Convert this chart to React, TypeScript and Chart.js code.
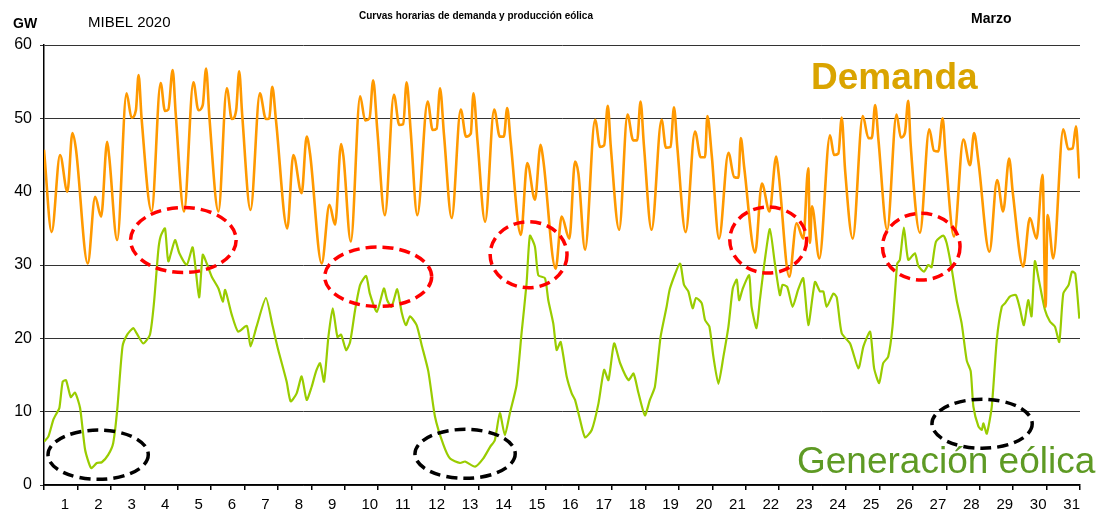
import React, { useEffect, useRef } from 'react';
import { Chart, registerables } from 'chart.js';

Chart.register(...registerables);

const FONT = "'Liberation Sans', Arial, sans-serif";

const dayLabels = ['1','2','3','4','5','6','7','8','9','10','11','12','13','14','15','16','17','18','19','20','21','22','23','24','25','26','27','28','29','30','31'];

// [day position (0 = start of 1 March), GW]
const demandPoints: [number, number][] = [
  [0, 45.7],[0.23, 34.5],[0.48, 45.0],[0.70, 40.0],[0.85, 48.0],[0.95, 46.0],
  [1.31, 30.2],[1.53, 39.3],[1.71, 36.6],[1.89, 46.8],[1.95, 44.8],
  [2.19, 33.4],[2.47, 53.4],[2.62, 50.1],[2.75, 51.1],[2.83, 55.9],[2.92, 50.0],
  [3.22, 37.3],[3.49, 54.8],[3.62, 51.0],[3.72, 51.2],[3.85, 56.6],[3.94, 50.7],
  [4.19, 37.3],[4.47, 54.9],[4.62, 51.1],[4.75, 51.8],[4.85, 56.8],[4.95, 50.1],
  [5.22, 37.3],[5.47, 54.1],[5.62, 49.9],[5.75, 51.1],[5.84, 56.4],[5.93, 50.5],
  [6.18, 37.5],[6.46, 53.4],[6.64, 49.9],[6.74, 50.0],[6.83, 54.3],[6.94, 49.8],
  [7.28, 35.0],[7.46, 45.0],[7.71, 39.8],[7.86, 47.5],[7.96, 45.2],
  [8.31, 30.2],[8.54, 38.2],[8.71, 35.5],[8.89, 46.5],[8.96, 44.8],
  [9.18, 33.2],[9.46, 53.0],[9.61, 49.7],[9.74, 50.0],[9.85, 55.2],[9.97, 48.6],
  [10.20, 36.8],[10.47, 53.2],[10.63, 49.1],[10.75, 49.2],[10.85, 54.9],[10.97, 48.4],
  [11.17, 36.8],[11.48, 52.3],[11.63, 48.4],[11.75, 48.6],[11.85, 54.1],[11.97, 47.7],
  [12.20, 36.4],[12.47, 51.2],[12.63, 47.5],[12.77, 47.9],[12.85, 53.4],[12.97, 47.0],
  [13.20, 35.9],[13.47, 51.2],[13.64, 47.5],[13.76, 47.5],[13.86, 51.4],[13.96, 47.0],
  [14.27, 34.1],[14.46, 43.9],[14.69, 38.9],[14.86, 46.4],[14.94, 44.3],
  [15.31, 29.5],[15.49, 36.6],[15.72, 33.6],[15.89, 44.1],[15.99, 42.5],
  [16.19, 32.1],[16.49, 49.8],[16.64, 46.1],[16.76, 46.3],[16.87, 51.7],[16.96, 46.1],
  [17.21, 34.8],[17.46, 50.5],[17.63, 47.0],[17.75, 47.0],[17.85, 52.3],[17.95, 46.4],
  [18.18, 34.8],[18.48, 49.8],[18.61, 46.0],[18.75, 46.1],[18.85, 51.5],[18.95, 46.1],
  [19.20, 34.5],[19.48, 48.2],[19.65, 44.7],[19.78, 44.7],[19.85, 50.3],[19.98, 45.0],
  [20.20, 33.6],[20.48, 45.3],[20.65, 42.0],[20.78, 41.9],[20.85, 47.3],[20.95, 43.4],
  [21.28, 31.7],[21.48, 41.1],[21.71, 37.3],[21.91, 44.8],[21.98, 42.6],
  [22.30, 28.4],[22.52, 35.7],[22.72, 33.6],[22.87, 43.2],[22.92, 33.0],[22.98, 38.0],
  [23.20, 30.9],[23.52, 47.7],[23.64, 45.0],[23.77, 45.2],[23.87, 50.1],[23.97, 43.0],
  [24.20, 33.6],[24.50, 50.3],[24.67, 47.3],[24.77, 47.3],[24.87, 51.8],[24.97, 47.0],
  [25.23, 34.8],[25.51, 50.5],[25.64, 47.4],[25.76, 48.0],[25.86, 52.4],[25.93, 46.6],
  [26.21, 34.4],[26.49, 48.5],[26.63, 45.6],[26.76, 45.5],[26.89, 50.0],[26.98, 44.8],
  [27.23, 33.9],[27.51, 47.1],[27.71, 43.6],[27.83, 48.0],[27.96, 44.1],
  [28.29, 31.8],[28.52, 41.6],[28.70, 37.3],[28.88, 44.5],[28.99, 39.8],
  [29.30, 29.8],[29.50, 36.4],[29.70, 33.6],[29.88, 42.3],[29.97, 24.3],[30.03, 36.8],
  [30.20, 30.9],[30.50, 48.5],[30.65, 45.8],[30.78, 45.9],[30.88, 48.9],[30.98, 41.8],
];

const windPoints: [number, number][] = [
  [0, 5.9],[0.13, 6.6],[0.28, 8.9],[0.38, 9.8],[0.46, 10.5],[0.56, 14.1],[0.66, 14.3],[0.80, 12.0],[0.93, 12.6],
  [1.08, 10.5],[1.23, 4.8],[1.41, 2.3],[1.58, 3.0],[1.73, 3.1],[1.92, 4.1],
  [2.07, 5.7],[2.19, 10.2],[2.35, 18.9],[2.49, 20.5],[2.67, 21.4],[2.77, 20.7],[2.97, 19.3],
  [3.17, 20.5],[3.29, 24.8],[3.42, 32.0],[3.49, 33.9],[3.62, 35.0],[3.72, 30.5],[3.92, 33.4],
  [4.05, 31.6],[4.27, 30.0],[4.45, 32.4],[4.64, 25.6],[4.75, 31.4],[4.87, 30.2],
  [5.02, 28.4],[5.22, 26.8],[5.35, 25.0],[5.42, 26.6],[5.62, 23.2],[5.81, 20.9],
  [6.07, 21.7],[6.18, 18.9],[6.36, 21.6],[6.64, 25.5],[6.84, 21.7],
  [7.01, 18.4],[7.26, 14.1],[7.38, 11.4],[7.56, 12.5],[7.71, 14.8],[7.86, 11.6],
  [8.01, 13.4],[8.14, 15.5],[8.26, 16.6],[8.38, 14.1],[8.51, 20.2],[8.64, 24.1],[8.78, 20.2],[8.89, 20.5],
  [9.04, 18.4],[9.16, 19.5],[9.31, 23.9],[9.46, 27.3],[9.64, 28.5],[9.75, 26.1],[9.96, 23.6],
  [10.17, 26.8],[10.27, 25.2],[10.40, 24.3],[10.57, 26.7],[10.70, 23.6],[10.83, 21.8],[10.95, 23.0],
  [11.15, 21.8],[11.30, 19.1],[11.50, 15.5],[11.70, 9.3],[11.95, 5.5],
  [12.15, 3.6],[12.45, 3.0],[12.60, 3.2],[12.90, 2.5],
  [13.14, 3.6],[13.35, 5.2],[13.49, 6.1],[13.64, 9.8],[13.79, 6.8],[13.94, 9.8],
  [14.14, 13.6],[14.29, 20.7],[14.44, 27.5],[14.54, 34.0],[14.69, 32.5],[14.79, 28.6],[14.99, 28.2],
  [15.09, 25.2],[15.24, 22.0],[15.34, 18.4],[15.46, 19.5],[15.64, 14.8],[15.79, 12.5],[15.89, 11.6],
  [16.04, 8.9],[16.19, 6.5],[16.39, 7.5],[16.59, 11.1],[16.76, 15.7],[16.89, 14.3],
  [17.06, 19.3],[17.24, 16.6],[17.49, 14.3],[17.64, 15.2],[17.79, 12.5],[17.98, 9.5],
  [18.13, 11.6],[18.28, 13.4],[18.45, 20.2],[18.63, 24.3],[18.73, 26.8],
  [19.03, 30.2],[19.15, 27.3],[19.28, 26.4],[19.41, 24.1],[19.51, 25.5],[19.68, 24.8],[19.78, 22.5],[19.91, 21.6],
  [20.03, 17.5],[20.18, 13.8],[20.33, 17.5],[20.48, 21.6],[20.61, 26.8],[20.73, 28.0],[20.80, 25.2],[20.91, 26.8],
  [21.10, 28.6],[21.17, 24.4],[21.32, 21.4],[21.42, 25.2],[21.57, 30.7],[21.72, 34.9],[21.87, 30.2],
  [22.02, 25.9],[22.10, 27.3],[22.24, 27.0],[22.40, 24.3],[22.57, 26.7],[22.72, 28.2],[22.87, 21.8],
  [23.07, 27.7],[23.22, 26.4],[23.32, 26.4],[23.42, 24.3],[23.62, 26.1],[23.72, 25.6],[23.87, 20.7],
  [24.12, 19.3],[24.37, 15.9],[24.52, 18.9],[24.72, 20.9],[24.84, 15.9],[24.99, 13.9],
  [25.11, 16.6],[25.26, 17.5],[25.39, 21.6],[25.53, 30.2],[25.61, 30.7],[25.73, 35.1],[25.86, 30.7],
  [26.06, 31.6],[26.16, 29.9],[26.33, 29.1],[26.46, 30.0],[26.56, 29.7],[26.69, 33.2],[26.91, 34.0],
  [27.01, 33.0],[27.16, 29.5],[27.31, 25.2],[27.46, 22.0],[27.61, 17.0],[27.73, 15.5],[27.81, 10.7],[27.96, 8.0],
  [28.06, 7.5],[28.11, 8.4],[28.21, 7.0],[28.36, 10.7],[28.51, 19.8],[28.66, 24.3],[28.76, 24.8],[28.90, 25.7],
  [29.08, 25.9],[29.20, 24.1],[29.32, 21.8],[29.45, 25.2],[29.55, 23.0],[29.65, 30.5],[29.78, 27.7],[29.95, 23.9],
  [30.10, 22.3],[30.25, 21.6],[30.38, 19.5],[30.50, 26.1],[30.66, 27.3],[30.76, 29.1],[30.86, 28.8],[30.98, 22.7],
];

// highlight ellipses: [centre day, centre GW, radius days, radius GW]
const redEllipses: [number, number, number, number][] = [
  [4.17, 33.4, 1.58, 4.43],
  [10.0, 28.4, 1.6, 4.05],
  [14.5, 31.4, 1.15, 4.5],
  [21.67, 33.4, 1.15, 4.5],
  [26.25, 32.5, 1.16, 4.55],
];
const blackEllipses: [number, number, number, number][] = [
  [1.62, 4.13, 1.5, 3.36],
  [12.6, 4.25, 1.5, 3.34],
  [28.07, 8.35, 1.5, 3.34],
];

const titleText = 'Curvas horarias de demanda y producción eólica';
const unitText = 'GW';
const marketText = 'MIBEL 2020';
const monthText = 'Marzo';
const demandLabel = 'Demanda';
const windLabel = 'Generación eólica';

const ellipsePlugin = {
  id: 'ellipses',
  afterDatasetsDraw(chart: any) {
    const xs = chart.scales.xd;
    const ys = chart.scales.y;
    const ctx = chart.ctx;
    ctx.save();
    ctx.lineWidth = 3.5;
    ctx.setLineDash([11, 6]);
    const draw = (list: [number, number, number, number][], color: string) => {
      for (const [cx, cy, rx, ry] of list) {
        const px = xs.getPixelForValue(cx);
        const py = ys.getPixelForValue(cy);
        const prx = xs.getPixelForValue(cx + rx) - px;
        const pry = py - ys.getPixelForValue(cy + ry);
        ctx.beginPath();
        ctx.strokeStyle = color;
        ctx.ellipse(px, py, prx, pry, 0, 0, Math.PI * 2);
        ctx.stroke();
      }
    };
    draw(redEllipses, '#FF0000');
    draw(blackEllipses, '#000000');
    ctx.restore();
  },
};

const textPlugin = {
  id: 'texts',
  afterDraw(chart: any) {
    const ctx = chart.ctx;
    ctx.save();
    ctx.textBaseline = 'alphabetic';
    ctx.fillStyle = '#000';
    ctx.textAlign = 'center';
    ctx.font = `bold 10px ${FONT}`;
    ctx.fillText(titleText, 476, 19);
    ctx.textAlign = 'left';
    ctx.font = `bold 14px ${FONT}`;
    ctx.fillText(unitText, 13, 28);
    ctx.font = `15px ${FONT}`;
    ctx.fillText(marketText, 88, 27);
    ctx.font = `bold 14px ${FONT}`;
    ctx.fillText(monthText, 971, 23);
    ctx.font = `bold 37px ${FONT}`;
    ctx.fillStyle = '#DAA400';
    ctx.fillText(demandLabel, 811, 89);
    ctx.font = `37px ${FONT}`;
    ctx.fillStyle = '#5E9A24';
    ctx.fillText(windLabel, 797, 473);
    ctx.restore();
  },
};

export default function App() {
  const ref = useRef<HTMLCanvasElement>(null);
  useEffect(() => {
    if (!ref.current) return;
    Chart.defaults.font.family = FONT;
    const chart = new Chart(ref.current, {
      type: 'line',
      data: {
        labels: dayLabels,
        datasets: [
          {
            label: demandLabel,
            data: demandPoints.map(([x, y]) => ({ x, y })),
            xAxisID: 'xd',
            borderColor: '#FF9900',
            borderWidth: 2.6,
            pointRadius: 0,
            cubicInterpolationMode: 'monotone',
            fill: false,
          },
          {
            label: windLabel,
            data: windPoints.map(([x, y]) => ({ x, y })),
            xAxisID: 'xd',
            borderColor: '#99CC00',
            borderWidth: 2.2,
            pointRadius: 0,
            tension: 0.2,
            fill: false,
          },
        ],
      },
      options: {
        responsive: false,
        animation: false,
        events: [],
        layout: { padding: { left: 0, top: 45, right: 18, bottom: 0 } },
        plugins: { legend: { display: false }, tooltip: { enabled: false }, title: { display: false } },
        scales: {
          x: {
            type: 'category',
            offset: true,
            grid: { display: true, drawOnChartArea: false, drawTicks: true, tickLength: 5, offset: true, color: '#000', lineWidth: 1.5 },
            border: { display: true, color: '#000', width: 1.5 },
            ticks: { font: { size: 15, family: FONT }, color: '#000', padding: 6, maxRotation: 0, autoSkip: false, align: 'start', labelOffset: 0 },
            afterFit: (s: any) => { s.height = 26; },
          },
          xd: {
            type: 'linear',
            display: false,
            min: 0,
            max: 31,
          },
          y: {
            min: 0,
            max: 60,
            ticks: { stepSize: 10, font: { size: 16, family: FONT }, color: '#000', padding: 8 },
            grid: { color: '#333', lineWidth: 1, tickLength: 4, drawTicks: true },
            border: { display: true, color: '#000', width: 1.5 },
            afterFit: (s: any) => { s.width = 44; },
          },
        },
      },
      plugins: [ellipsePlugin, textPlugin],
    } as any);
    return () => chart.destroy();
  }, []);
  return (
    <div style={{ position: 'absolute', left: 0, top: 0, width: 1098, height: 511, background: '#fff' }}>
      <canvas ref={ref} width={1098} height={511} style={{ display: 'block' }} />
    </div>
  );
}
